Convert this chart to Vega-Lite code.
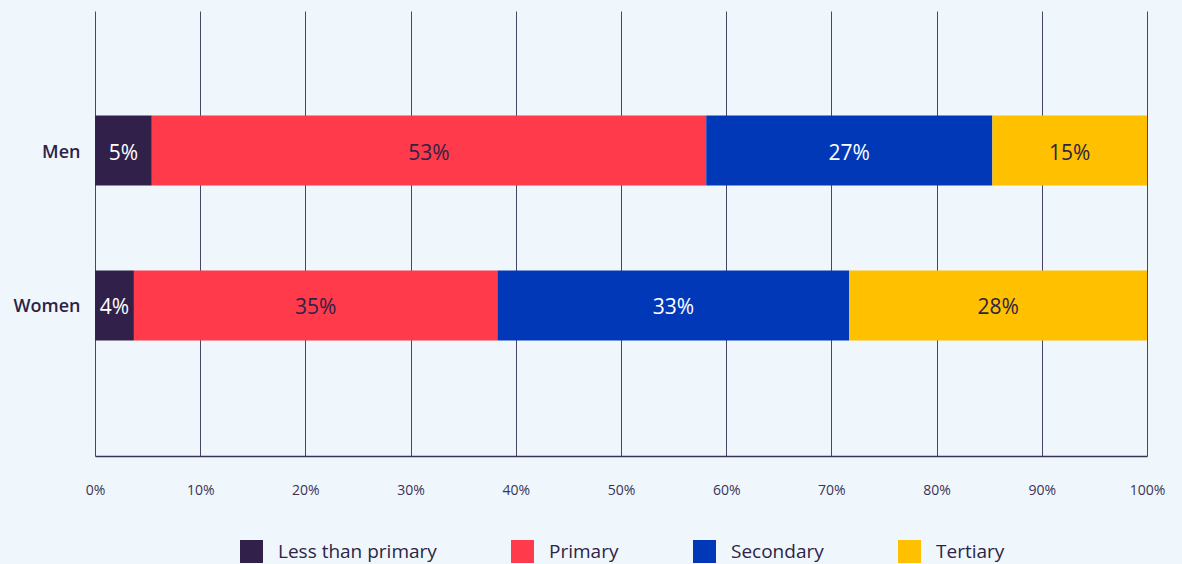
{
  "$schema": "https://vega.github.io/schema/vega-lite/v6.json",
  "autosize": "none",
  "width": 1052,
  "height": 445,
  "padding": {"left": 95, "top": 11, "right": 35, "bottom": 108},
  "background": "#eff7fd",
  "config": {
    "view": {"stroke": null},
    "font": "Open Sans"
  },
  "data": {
    "values": [
      {"group": "Men", "level": "Less than primary", "value": 5.4},
      {"group": "Men", "level": "Primary", "value": 52.7},
      {"group": "Men", "level": "Secondary", "value": 27.2},
      {"group": "Men", "level": "Tertiary", "value": 14.7},
      {"group": "Women", "level": "Less than primary", "value": 3.7},
      {"group": "Women", "level": "Primary", "value": 34.55},
      {"group": "Women", "level": "Secondary", "value": 33.45},
      {"group": "Women", "level": "Tertiary", "value": 28.3}
    ]
  },
  "transform": [
    {"stack": "value", "groupby": ["group"], "sort": [{"field": "level", "order": "ascending"}], "as": ["v0", "v1"]},
    {"calculate": "(datum.v0 + datum.v1) / 2", "as": "mid"}
  ],
  "encoding": {
    "y": {
      "field": "group",
      "type": "nominal",
      "sort": ["Men", "Women"],
      "title": null,
      "scale": {"paddingInner": 0.548, "paddingOuter": 0.71, "align": 0.475},
      "axis": {
        "domain": false,
        "ticks": false,
        "grid": false,
        "labelFont": "Open Sans",
        "labelFontSize": 18,
        "labelFontWeight": 600,
        "labelColor": "#2e2346",
        "labelPadding": 15,
        "labelOffset": 2
      }
    }
  },
  "layer": [
    {
      "mark": {"type": "bar"},
      "encoding": {
        "x": {
          "field": "v0",
          "type": "quantitative",
          "title": null,
          "scale": {"domain": [0, 100], "nice": false},
          "axis": {
            "values": [0, 10, 20, 30, 40, 50, 60, 70, 80, 90, 100],
            "labelExpr": "datum.value + '%'",
            "grid": true,
            "gridColor": "#4a4466",
            "gridWidth": 1,
            "domain": true,
            "domainColor": "#3a3358",
            "domainWidth": 1.5,
            "ticks": false,
            "labelPadding": 27,
            "labelFont": "Open Sans",
            "labelFontSize": 14,
            "labelColor": "#3a3358",
            "labelFlush": false
          }
        },
        "x2": {"field": "v1"},
        "color": {
          "field": "level",
          "type": "nominal",
          "scale": {
            "domain": ["Less than primary", "Primary", "Secondary", "Tertiary"],
            "range": ["#30204a", "#fe3a4b", "#0038b8", "#ffc000"]
          },
          "legend": {
            "title": null,
            "orient": "none",
            "legendX": 145,
            "legendY": 529,
            "direction": "horizontal",
            "symbolType": "square",
            "symbolSize": 529,
            "symbolStrokeWidth": 0,
            "symbolOpacity": 1,
            "labelFont": "Open Sans",
            "labelFontSize": 19,
            "labelColor": "#2e2346",
            "labelOffset": 15,
            "columnPadding": 74,
            "labelLimit": 300
          }
        }
      }
    },
    {
      "mark": {
        "type": "text",
        "font": "Open Sans",
        "fontSize": 21,
        "dy": 3,
        "text": {"expr": "format(datum.value, '.0f') + '%'"}
      },
      "encoding": {
        "x": {"field": "mid", "type": "quantitative"},
        "color": {
          "condition": {"test": "datum.level === 'Primary' || datum.level === 'Tertiary'", "value": "#2e2346"},
          "value": "#ffffff"
        }
      }
    }
  ]
}
